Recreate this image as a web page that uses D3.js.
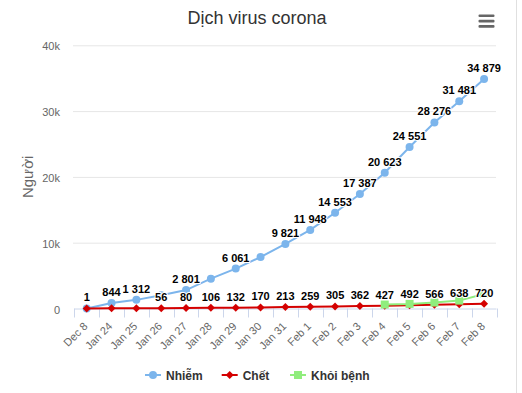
<!DOCTYPE html>
<meta charset="utf-8">
<title>Dịch virus corona</title>
<style>
body { margin: 0; background: #fff; }
svg { font-family: "Liberation Sans", Arial, sans-serif; display: block; }
.grid line { stroke: #e6e6e6; }
.grid path { display: none; }
.ylab text { fill: #666; font-size: 11px; }
.xaxis path, .xaxis line { stroke: #ccd6eb; }
.xaxis text { fill: #666; font-size: 11px; }
.dlabel { font-size: 11px; font-weight: bold; fill: #000; stroke: #fff; stroke-width: 2px; paint-order: stroke; stroke-linejoin: round; }
.legend text { font-size: 12px; font-weight: bold; fill: #333; }
</style>
<svg width="522" height="393"></svg>
<script src="https://cdn.jsdelivr.net/npm/d3@7"></script>
<script>

var categories = ["Dec 8", "Jan 24", "Jan 25", "Jan 26", "Jan 27", "Jan 28", "Jan 29", "Jan 30", "Jan 31",
                  "Feb 1", "Feb 2", "Feb 3", "Feb 4", "Feb 5", "Feb 6", "Feb 7", "Feb 8"];
var infected = [1, 844, 1312, 2019, 2801, 4537, 6061, 7818, 9821, 11948, 14553, 17387, 20623, 24551, 28276, 31481, 34879];
var deaths = [0, 26, 41, 56, 80, 106, 132, 170, 213, 259, 305, 362, 427, 492, 566, 638, 720];
var recovered = [null, null, null, null, null, null, null, null, null, null, null, null, 600, 700, 900, 1200, 2200];
var yTicks = [0, 10000, 20000, 30000, 40000];

var series = [
  {name: "Nhiễm", data: infected, color: "#7cb5ec", marker: "circle"},
  {name: "Chết", data: deaths, color: "#d40000", marker: "diamond"},
  {name: "Khỏi bệnh", data: recovered, color: "#90ed7d", marker: "square"}
];

var svg = d3.select("svg");
var fmt = d3.formatLocale({decimal: ".", thousands: " ", grouping: [3], currency: ["", ""]}).format(",d");

var x = d3.scaleBand().domain(categories).range([74.3, 496.5]);
var y = d3.scaleLinear().domain([0, 40000]).range([308.5, 45.3]);
function px(i) { return x(categories[i]) + x.bandwidth() / 2; }

// right border of the container
svg.append("line").attr("x1", 516.5).attr("x2", 516.5).attr("y1", 0).attr("y2", 393)
  .attr("stroke", "#e0e0e0");

// title
svg.append("text").attr("x", 257).attr("y", 24).attr("text-anchor", "middle")
  .style("font-size", "18px").style("fill", "#333").text("Dịch virus corona");

// hamburger menu
[15.7, 21, 26.3].forEach(function(v) {
  svg.append("rect").attr("x", 478.5).attr("y", v - 1.3).attr("width", 16).attr("height", 2.7)
    .attr("rx", 1).attr("fill", "#666");
});

// grid
svg.append("g").attr("class", "grid").attr("transform", "translate(73,0)")
  .call(d3.axisLeft(y).tickValues(yTicks.slice(1)).tickSize(-423).tickFormat(""));

// y labels
svg.append("g").attr("class", "ylab").selectAll("text").data(yTicks).enter().append("text")
  .attr("x", 60).attr("y", function(d) { return y(d) + 5; }).attr("text-anchor", "end")
  .text(function(d) { return d === 0 ? "0" : (d / 1000) + "k"; });

// y title
svg.append("text").attr("transform", "translate(33," + ((y(0) + y(40000)) / 2) + ") rotate(-90)")
  .attr("text-anchor", "middle").style("font-size", "15px").style("fill", "#666").text("Người");

// x axis
var xg = svg.append("g").attr("class", "xaxis").attr("transform", "translate(0," + y(0) + ")");
xg.append("line").attr("x1", 74.3).attr("x2", 496.5).attr("y1", 0.5).attr("y2", 0.5);
xg.selectAll(".tk").data(d3.range(categories.length + 1)).enter().append("line")
  .attr("x1", function(i) { return Math.round(74.3 + i * x.step()) + 0.5; })
  .attr("x2", function(i) { return Math.round(74.3 + i * x.step()) + 0.5; })
  .attr("y1", 0).attr("y2", 9);
xg.selectAll("text").data(categories).enter().append("text")
  .attr("transform", function(d, i) { return "translate(" + (px(i) - 3.8) + ",13) rotate(-45)"; })
  .attr("text-anchor", "end").attr("dy", "0.7em").text(function(d) { return d; });

// lines and markers
var line = d3.line().defined(function(d) { return d != null; })
  .x(function(d, i) { return px(i); }).y(function(d) { return y(d); });

function drawMarker(g, type, color, cx, cy) {
  if (type === "circle") {
    g.append("circle").attr("cx", cx).attr("cy", cy).attr("r", 4).attr("fill", color);
  } else if (type === "diamond") {
    g.append("path").attr("d", "M" + cx + "," + (cy - 4) + "L" + (cx + 4) + "," + cy + "L" + cx + "," + (cy + 4) + "L" + (cx - 4) + "," + cy + "Z")
      .attr("fill", color);
  } else {
    g.append("rect").attr("x", cx - 4).attr("y", cy - 4).attr("width", 8).attr("height", 8).attr("fill", color);
  }
}

series.forEach(function(s) {
  var g = svg.append("g");
  g.append("path").datum(s.data).attr("d", line).attr("fill", "none")
    .attr("stroke", s.color).attr("stroke-width", 2);
  s.data.forEach(function(v, i) {
    if (v != null) drawMarker(g, s.marker, s.color, px(i), y(v));
  });
});

// data labels, hiding the ones that overlap earlier ones
var lg = svg.append("g");
var shown = [];
series.forEach(function(s) {
  s.data.forEach(function(v, i) {
    if (v == null) return;
    var t = lg.append("text").attr("class", "dlabel").attr("x", px(i)).attr("y", y(v) - 7)
      .attr("text-anchor", "middle").text(fmt(v));
    var b = t.node().getBBox();
    var hit = shown.some(function(o) {
      return b.x < o.x + o.width && o.x < b.x + b.width && b.y < o.y + o.height && o.y < b.y + b.height;
    });
    if (hit) t.remove(); else shown.push(b);
  });
});

// legend
var legendX = [145, 221.7, 290];
var leg = svg.append("g").attr("class", "legend");
series.forEach(function(s, k) {
  var g = leg.append("g").attr("transform", "translate(" + legendX[k] + ",375)");
  g.append("line").attr("x1", 0).attr("x2", 16).attr("stroke", s.color).attr("stroke-width", 2);
  drawMarker(g, s.marker, s.color, 8, 0);
  g.append("text").attr("x", 21).attr("y", 4.5).text(s.name);
});

</script>
